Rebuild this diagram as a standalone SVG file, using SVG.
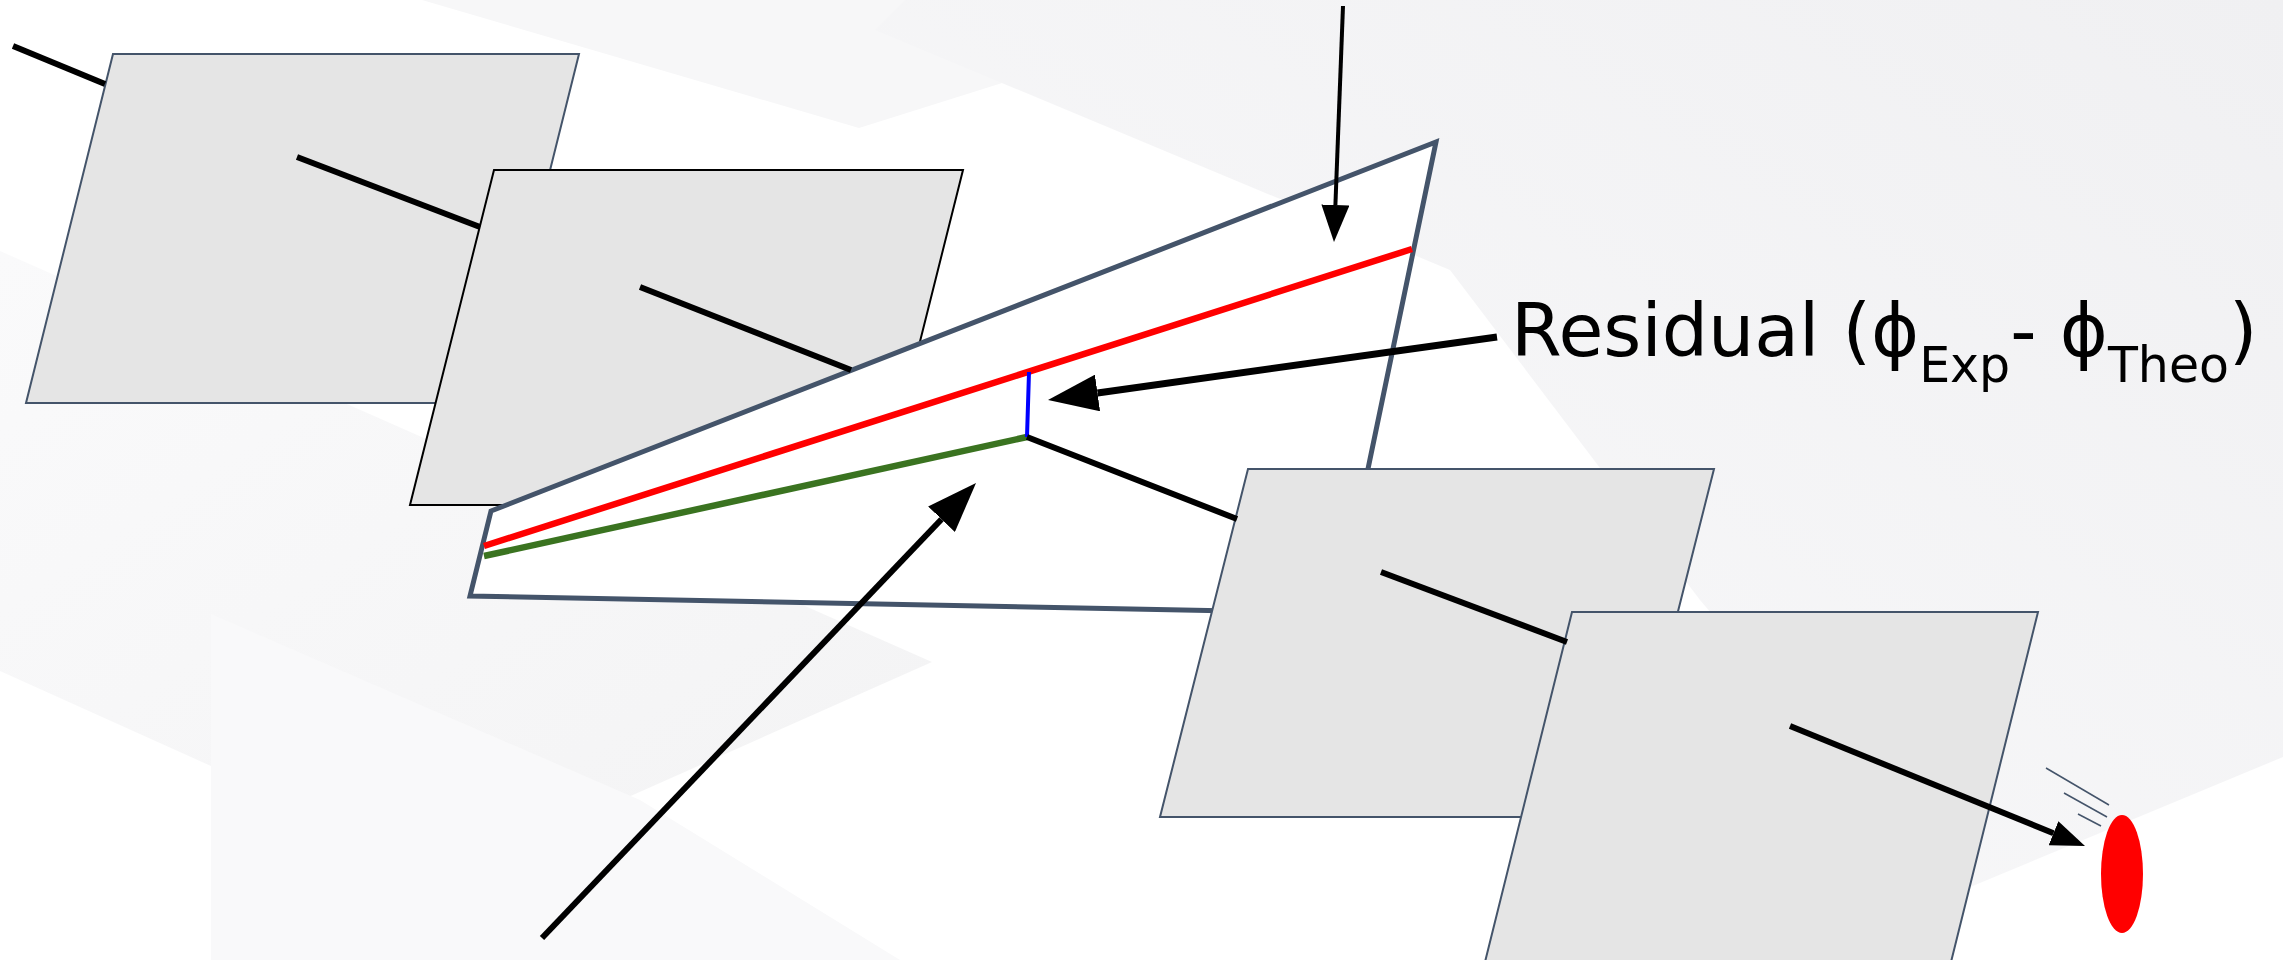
<svg xmlns="http://www.w3.org/2000/svg" width="2283" height="960" viewBox="0 0 2283 960">
  <defs>
    <style>
      .panel { fill: #e5e5e5; stroke: #44546a; stroke-width: 2; stroke-linejoin: miter; }
      .panel-dark { stroke: #000000; }
      .frame { fill: #ffffff; stroke: #44546a; stroke-width: 5; stroke-linejoin: miter; }
      .beam { fill: none; stroke: #000000; stroke-width: 6; stroke-linecap: butt; }
      .thin { stroke-width: 4; }
      .thick { stroke-width: 7; }
      .ray-exp { fill: none; stroke: #ff0000; stroke-width: 6.5; }
      .ray-theo { fill: none; stroke: #3a7320; stroke-width: 6.5; }
      .gap { fill: none; stroke: #0000ff; stroke-width: 4; }
      .motion { fill: none; stroke: #44546a; stroke-width: 1.5; }
      .label { font-family: "DejaVu Sans", Verdana, sans-serif; font-size: 73px; fill: #000000; }
      .sub { font-size: 49px; }
    </style>
    <marker id="head-lg" markerUnits="userSpaceOnUse" markerWidth="50" markerHeight="37" refX="0" refY="18.5" orient="auto">
      <path d="M0,0 L50,18.5 L0,37 Z" fill="#000000"/>
    </marker>
    <marker id="head-md" markerUnits="userSpaceOnUse" markerWidth="37" markerHeight="28" refX="0" refY="14" orient="auto">
      <path d="M0,0 L37,14 L0,28 Z" fill="#000000"/>
    </marker>
    <marker id="head-sm" markerUnits="userSpaceOnUse" markerWidth="34" markerHeight="26" refX="0" refY="13" orient="auto">
      <path d="M0,0 L34,13 L0,26 Z" fill="#000000"/>
    </marker>
    <linearGradient id="bg-right" x1="1" y1="0" x2="0" y2="1">
      <stop offset="0" stop-color="#f0f0f2"/>
      <stop offset="1" stop-color="#fafafb"/>
    </linearGradient>
    <linearGradient id="bg-left" x1="0" y1="0" x2="1" y2="1">
      <stop offset="0" stop-color="#fafafb"/>
      <stop offset="1" stop-color="#f3f3f4"/>
    </linearGradient>
  </defs>

  <!-- soft backdrop shapes -->
  <g id="backdrop">
    <rect x="0" y="0" width="2283" height="960" fill="#ffffff"/>
    <polygon points="422,0 859,128 1267,0" fill="#f7f7f8"/>
    <polygon points="875,30 905,0 2283,0 2283,757 1951,895 1700,600 1450,270" fill="url(#bg-right)"/>
    <polygon points="0,251 932,662 453,875 0,671" fill="url(#bg-left)"/>
    <polygon points="211,614 640,800 900,960 211,960" fill="#f9f9fa"/>
  </g>

  <!-- detector planes, back to front -->
  <g id="panel1">
    <polygon class="panel" points="113,54 579,54 492,403 26,403"/>
  </g>
  <g id="panel2">
    <polygon class="panel panel-dark" points="494,170 963,170 879,505 410,505"/>
  </g>

  <!-- fitting plane with measured and predicted tracks -->
  <g id="fit-plane">
    <polygon class="frame" points="491,511 1436,142 1338,613 470,596"/>
    <line class="ray-exp" x1="484" y1="546" x2="1412" y2="249"/>
    <line class="ray-theo" x1="484" y1="556" x2="1027" y2="437"/>
    <line class="gap" x1="1029" y1="372" x2="1027" y2="437"/>
  </g>

  <g id="panel3">
    <polygon class="panel" points="1248,469 1714,469 1626,817 1160,817"/>
  </g>
  <g id="panel4">
    <polygon class="panel" points="1572,612 2038,612 1951,962 1485,962"/>
  </g>

  <!-- target spot -->
  <g id="target">
    <ellipse cx="2122" cy="874" rx="21" ry="59" fill="#ff0000"/>
    <line class="motion" x1="2046" y1="768" x2="2109" y2="805"/>
    <line class="motion" x1="2064" y1="793" x2="2107" y2="817"/>
    <line class="motion" x1="2078" y1="814" x2="2101" y2="826"/>
  </g>

  <!-- track segments and pointers -->
  <g id="connectors">
    <line class="beam" x1="13" y1="46" x2="105" y2="84"/>
    <line class="beam" x1="297" y1="157" x2="480" y2="227"/>
    <line class="beam" x1="640" y1="287" x2="851" y2="370"/>
    <line class="beam" x1="1027" y1="437" x2="1237" y2="519"/>
    <line class="beam" x1="1381" y1="572" x2="1567" y2="642"/>
    <line class="beam" x1="1790" y1="726" x2="2053.5" y2="833.2" marker-end="url(#head-sm)"/>
    <line class="beam thin" x1="1343" y1="6" x2="1335.4" y2="205" marker-end="url(#head-md)"/>
    <line class="beam" x1="542" y1="938" x2="941.5" y2="519.2" marker-end="url(#head-lg)"/>
    <line class="beam thick" x1="1497" y1="337" x2="1097.5" y2="393" marker-end="url(#head-lg)"/>
  </g>

  <g id="residual-label">
    <text class="label" x="1511" y="356">Residual (&#x3D5;<tspan class="sub" dy="26">Exp</tspan><tspan dy="-26">- &#x3D5;</tspan><tspan class="sub" dy="26">Theo</tspan><tspan dy="-26">)</tspan></text>
  </g>
</svg>
